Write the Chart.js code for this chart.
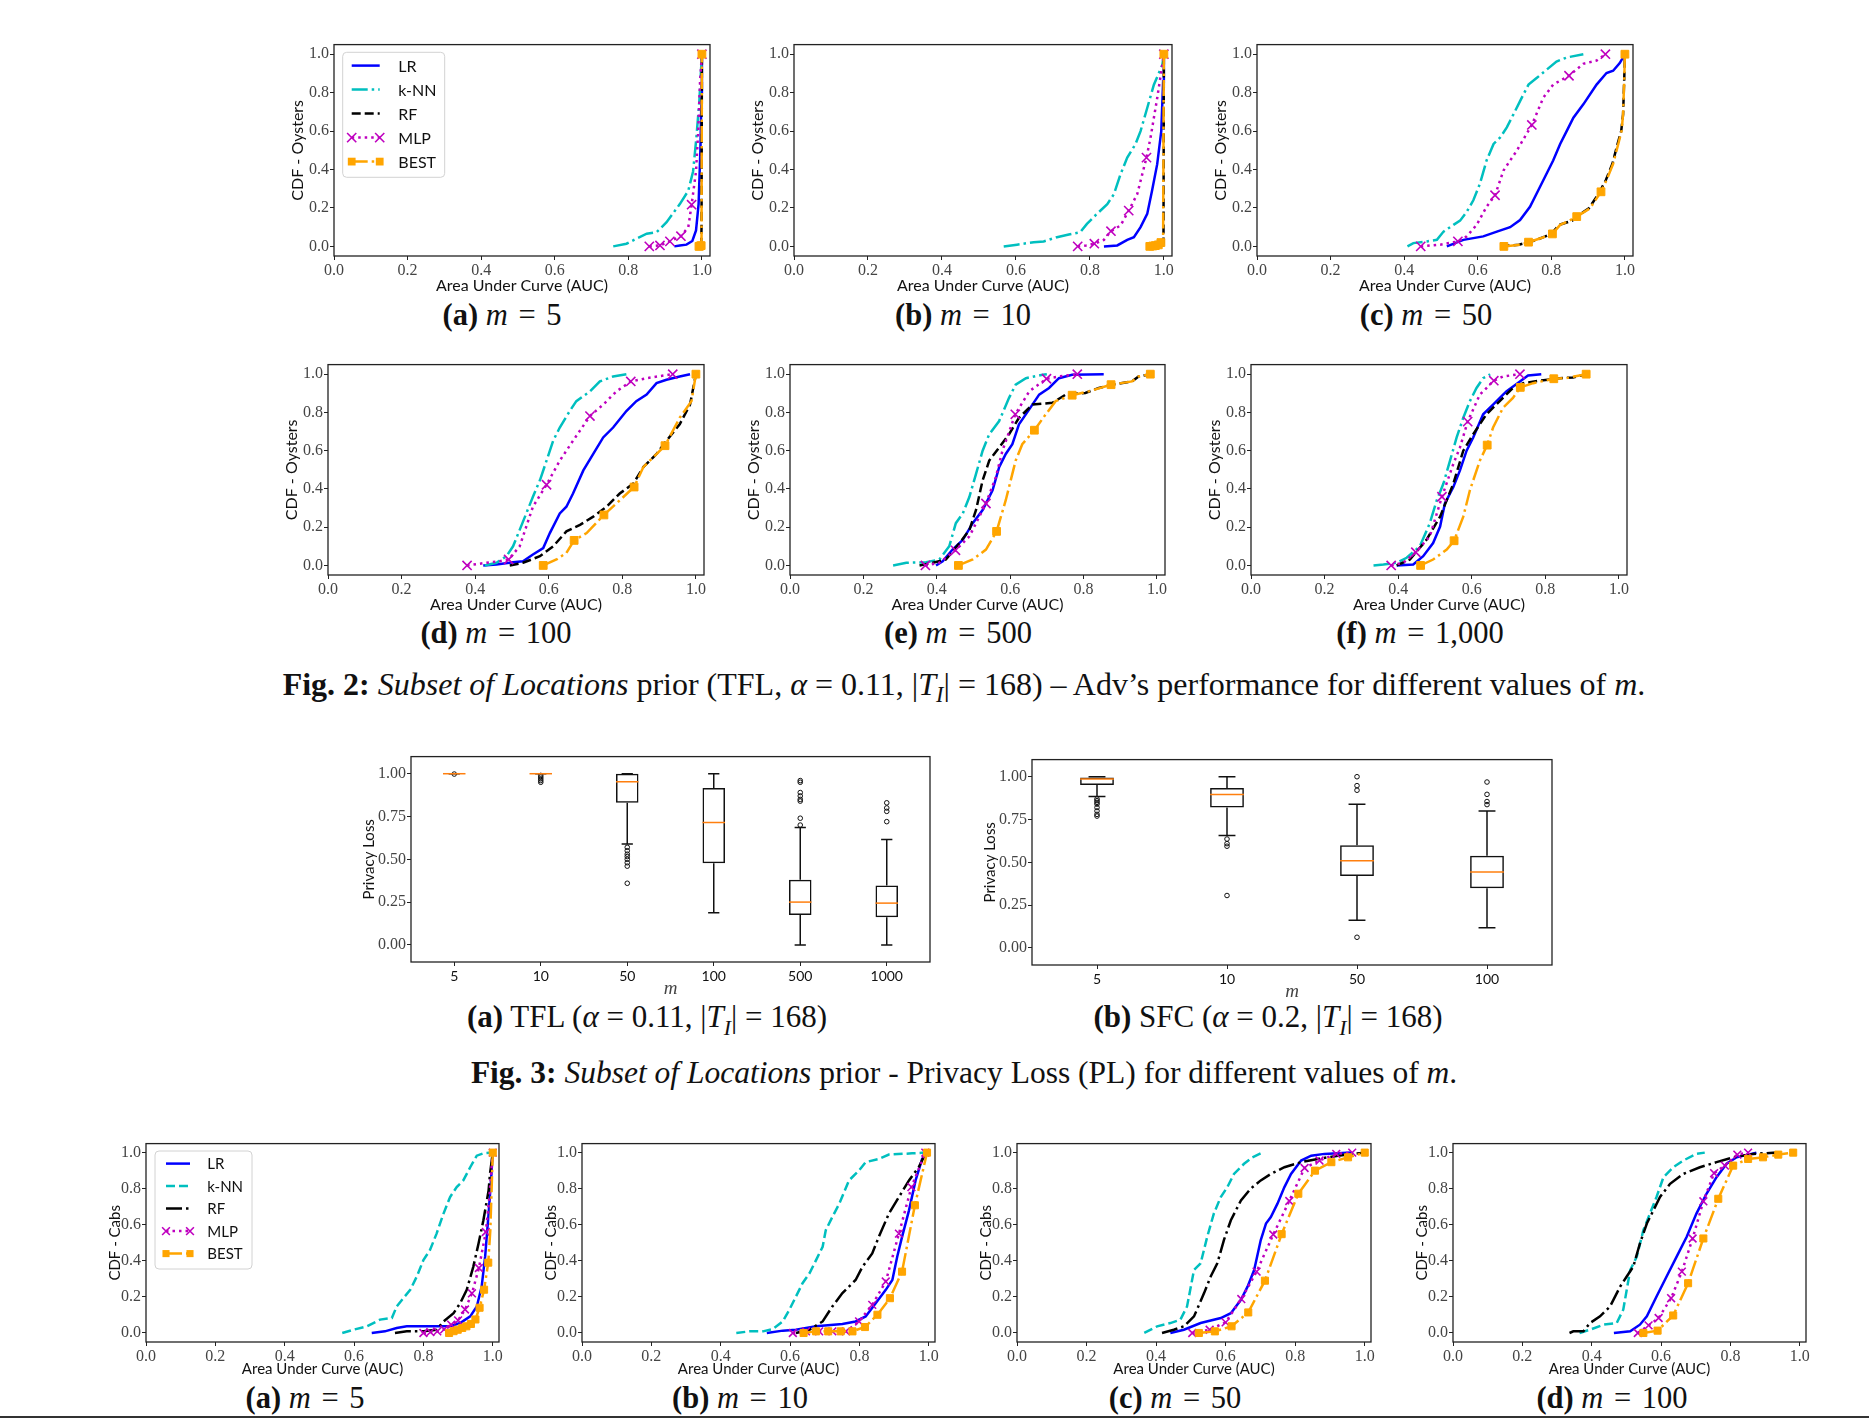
<!DOCTYPE html>
<html>
<head>
<meta charset="utf-8">
<script src="https://cdn.jsdelivr.net/npm/chart.js@4.4.1/dist/chart.umd.min.js"></script>
<style>
  body { margin: 0; background: #fff; width: 1869px; height: 1419px; position: relative; overflow: hidden; }
  canvas { position: absolute; }
  .cap { position: absolute; transform: translate(-50%, -50%); font-family: 'Liberation Serif', serif; font-size: 30.5px; white-space: nowrap; color: #111; }
  .bcap { font-size: 31px; }
  .fig { font-size: 32px; }
  .fig3 { font-size: 31.5px; }
  .eq { margin: 0 0.35em; }
  sub { font-size: 0.7em; }
  .rule { position: absolute; left: 0; top: 1416px; width: 1869px; height: 2px; background: #333; }
</style>
</head>
<body>

<div class="cap" style="left:502px;top:315px"><b>(a)</b> <i>m</i><span class="eq">=</span>5</div>
<div class="cap" style="left:963px;top:315px"><b>(b)</b> <i>m</i><span class="eq">=</span>10</div>
<div class="cap" style="left:1426px;top:315px"><b>(c)</b> <i>m</i><span class="eq">=</span>50</div>
<div class="cap" style="left:496px;top:633px"><b>(d)</b> <i>m</i><span class="eq">=</span>100</div>
<div class="cap" style="left:958px;top:633px"><b>(e)</b> <i>m</i><span class="eq">=</span>500</div>
<div class="cap" style="left:1420px;top:633px"><b>(f)</b> <i>m</i><span class="eq">=</span>1,000</div>
<div class="cap fig" style="left:964px;top:687px"><b>Fig. 2:</b> <i>Subset of Locations</i> prior (TFL, <i>α</i> = 0.11, |<i>T<sub>I</sub></i>| = 168) – Adv’s performance for different values of <i>m</i>.</div>

<div class="cap bcap" style="left:647px;top:1020px"><b>(a)</b> TFL (<i>α</i> = 0.11, |<i>T<sub>I</sub></i>| = 168)</div>
<div class="cap bcap" style="left:1268px;top:1020px"><b>(b)</b> SFC (<i>α</i> = 0.2, |<i>T<sub>I</sub></i>| = 168)</div>
<div class="cap fig3" style="left:964px;top:1073px"><b>Fig. 3:</b> <i>Subset of Locations</i> prior - Privacy Loss (PL) for different values of <i>m</i>.</div>

<div class="cap" style="left:305px;top:1398px"><b>(a)</b> <i>m</i><span class="eq">=</span>5</div>
<div class="cap" style="left:740px;top:1398px"><b>(b)</b> <i>m</i><span class="eq">=</span>10</div>
<div class="cap" style="left:1175px;top:1398px"><b>(c)</b> <i>m</i><span class="eq">=</span>50</div>
<div class="cap" style="left:1612px;top:1398px"><b>(d)</b> <i>m</i><span class="eq">=</span>100</div>
<div class="rule"></div>

<script>
// ---- data: [AUC, CDF] pairs ----
const modelNames = ['LR', 'k-NN', 'RF', 'MLP', 'BEST'];
const aucTicks = [0, 0.2, 0.4, 0.6, 0.8, 1.0];
const cdfTicks = [0, 0.2, 0.4, 0.6, 0.8, 1.0];
const plTicks = [0, 0.25, 0.5, 0.75, 1.0];

// Oysters, m = 5
const oys5LR = [[0.925,0],[0.94,0.005],[0.958,0.009],[0.974,0.028],[0.984,0.083],[0.991,0.22],[0.996,0.51],[0.999,0.8],[1.0,1.0]];
const oys5KNN = [[0.759,0],[0.795,0.014],[0.822,0.04],[0.85,0.066],[0.877,0.074],[0.904,0.126],[0.94,0.22],[0.963,0.29],[0.976,0.39],[0.985,0.566],[0.993,0.755],[0.996,0.86],[1.0,1.0]];
const oys5RF = [[0.995,0],[0.998,0.01],[0.999,0.1],[1.0,1.0]];
const oys5MLP = [[0.857,0],[0.886,0.005],[0.913,0.026],[0.943,0.053],[0.963,0.1],[0.972,0.217],[0.984,0.39],[0.99,0.6],[0.995,0.86],[1.0,1.0]];
const oys5BEST = [[0.992,0],[0.995,0.002],[0.998,0.004],[0.999,0.05],[1.0,1.0]];
// Oysters, m = 10
const oys10LR = [[0.838,0],[0.874,0.005],[0.901,0.034],[0.919,0.048],[0.937,0.1],[0.955,0.169],[0.968,0.29],[0.982,0.428],[0.993,0.6],[0.998,0.859],[1.0,1.0]];
const oys10KNN = [[0.567,0],[0.603,0.009],[0.648,0.022],[0.675,0.026],[0.711,0.048],[0.743,0.062],[0.774,0.074],[0.792,0.117],[0.819,0.169],[0.847,0.22],[0.865,0.272],[0.883,0.376],[0.901,0.462],[0.923,0.531],[0.937,0.6],[0.955,0.72],[0.973,0.841],[0.989,0.914],[0.996,0.945],[1.0,1.0]];
const oys10RF = [[0.997,0],[0.999,0.02],[1.0,1.0]];
const oys10MLP = [[0.767,0],[0.79,0.005],[0.812,0.014],[0.838,0.034],[0.857,0.079],[0.883,0.109],[0.905,0.186],[0.928,0.272],[0.953,0.462],[0.964,0.566],[0.982,0.772],[0.993,0.91],[1.0,1.0]];
const oys10BEST = [[0.962,0],[0.97,0.002],[0.977,0.004],[0.985,0.008],[0.992,0.02],[0.998,0.048],[1.0,1.0]];
// Oysters, m = 50
const oys50LR = [[0.516,0],[0.561,0.034],[0.615,0.052],[0.652,0.077],[0.688,0.1],[0.715,0.137],[0.742,0.206],[0.769,0.309],[0.787,0.378],[0.805,0.447],[0.824,0.533],[0.842,0.601],[0.86,0.67],[0.887,0.739],[0.923,0.842],[0.95,0.902],[0.968,0.914],[0.986,0.954],[1.0,1.0]];
const oys50KNN = [[0.409,0],[0.425,0.017],[0.462,0.026],[0.489,0.034],[0.507,0.077],[0.534,0.112],[0.552,0.134],[0.57,0.18],[0.588,0.24],[0.606,0.326],[0.624,0.447],[0.643,0.533],[0.661,0.567],[0.679,0.619],[0.697,0.687],[0.715,0.756],[0.738,0.842],[0.76,0.876],[0.787,0.919],[0.814,0.962],[0.842,0.983],[0.887,1.0]];
const oys50RF = [[0.662,0],[0.712,0.009],[0.748,0.026],[0.784,0.052],[0.802,0.069],[0.821,0.112],[0.857,0.134],[0.875,0.163],[0.902,0.198],[0.929,0.275],[0.948,0.344],[0.966,0.43],[0.98,0.533],[0.99,0.601],[0.995,0.687],[0.998,0.859],[1.0,1.0]];
const oys50MLP = [[0.445,0],[0.498,0.009],[0.546,0.026],[0.57,0.052],[0.597,0.112],[0.624,0.206],[0.647,0.266],[0.67,0.395],[0.706,0.498],[0.747,0.632],[0.778,0.773],[0.805,0.842],[0.848,0.888],[0.887,0.95],[0.923,0.967],[0.947,1.0]];
const oys50BEST = [[0.671,0],[0.715,0.009],[0.738,0.022],[0.775,0.045],[0.803,0.065],[0.824,0.112],[0.845,0.13],[0.869,0.155],[0.905,0.198],[0.935,0.284],[0.95,0.344],[0.968,0.43],[0.982,0.533],[0.991,0.601],[0.995,0.687],[0.998,0.859],[1.0,1.0]];
// Oysters, m = 100
const oys100LR = [[0.422,0],[0.458,0.005],[0.503,0.017],[0.53,0.022],[0.557,0.057],[0.585,0.091],[0.603,0.169],[0.63,0.272],[0.648,0.307],[0.666,0.376],[0.694,0.497],[0.721,0.583],[0.748,0.669],[0.775,0.721],[0.811,0.807],[0.838,0.859],[0.866,0.893],[0.893,0.953],[0.92,0.971],[0.956,0.988],[0.984,1.0]];
const oys100KNN = [[0.426,0],[0.458,0.014],[0.485,0.048],[0.503,0.1],[0.521,0.186],[0.539,0.272],[0.557,0.359],[0.576,0.445],[0.594,0.548],[0.612,0.652],[0.63,0.721],[0.657,0.807],[0.675,0.859],[0.712,0.91],[0.739,0.962],[0.775,0.988],[0.811,1.0]];
const oys100RF = [[0.494,0],[0.53,0.014],[0.576,0.048],[0.612,0.1],[0.648,0.178],[0.685,0.212],[0.721,0.255],[0.757,0.307],[0.793,0.376],[0.83,0.428],[0.857,0.514],[0.893,0.583],[0.92,0.652],[0.956,0.738],[0.984,0.841],[1.0,1.0]];
const oys100MLP = [[0.378,0],[0.431,0.014],[0.467,0.022],[0.491,0.031],[0.521,0.1],[0.557,0.307],[0.594,0.422],[0.63,0.548],[0.666,0.652],[0.712,0.781],[0.748,0.841],[0.784,0.91],[0.823,0.962],[0.866,0.979],[0.937,1.0]];
const oys100BEST = [[0.585,0],[0.621,0.031],[0.648,0.066],[0.669,0.131],[0.703,0.169],[0.75,0.264],[0.784,0.324],[0.832,0.41],[0.857,0.514],[0.916,0.626],[0.956,0.772],[0.988,0.859],[1.0,1.0]];
// Oysters, m = 500
const oys500LR = [[0.398,0],[0.416,0.022],[0.443,0.083],[0.471,0.134],[0.498,0.221],[0.525,0.29],[0.552,0.393],[0.57,0.514],[0.588,0.583],[0.606,0.634],[0.624,0.738],[0.652,0.816],[0.679,0.893],[0.706,0.928],[0.733,0.979],[0.769,0.997],[0.855,1.0]];
const oys500KNN = [[0.281,0],[0.317,0.014],[0.371,0.017],[0.407,0.031],[0.434,0.1],[0.452,0.221],[0.471,0.272],[0.489,0.359],[0.507,0.479],[0.525,0.6],[0.543,0.686],[0.57,0.755],[0.597,0.876],[0.615,0.945],[0.643,0.979],[0.688,0.997],[0.7,1.0]];
const oys500RF = [[0.353,0],[0.389,0.014],[0.425,0.031],[0.462,0.117],[0.489,0.186],[0.507,0.29],[0.525,0.445],[0.543,0.548],[0.57,0.617],[0.597,0.686],[0.624,0.772],[0.661,0.841],[0.715,0.85],[0.751,0.893],[0.805,0.902],[0.842,0.928],[0.878,0.945],[0.932,0.962],[0.95,0.988],[0.982,1.0]];
const oys500MLP = [[0.369,0],[0.407,0.014],[0.451,0.079],[0.489,0.152],[0.534,0.324],[0.561,0.462],[0.579,0.6],[0.614,0.79],[0.652,0.91],[0.699,0.976],[0.733,0.988],[0.783,1.0]];
const oys500BEST = [[0.459,0],[0.498,0.031],[0.534,0.083],[0.563,0.178],[0.588,0.341],[0.615,0.548],[0.633,0.634],[0.666,0.707],[0.697,0.79],[0.724,0.859],[0.769,0.89],[0.814,0.91],[0.875,0.945],[0.932,0.962],[0.95,0.988],[0.982,1.0]];
// Oysters, m = 1000
const oys1000LR = [[0.396,0],[0.441,0.005],[0.468,0.048],[0.495,0.117],[0.514,0.203],[0.527,0.324],[0.55,0.41],[0.568,0.497],[0.586,0.6],[0.604,0.669],[0.631,0.79],[0.658,0.841],[0.694,0.91],[0.731,0.962],[0.753,0.993],[0.789,1.0]];
const oys1000KNN = [[0.333,0],[0.36,0.005],[0.396,0.014],[0.423,0.04],[0.459,0.1],[0.486,0.221],[0.505,0.341],[0.523,0.428],[0.541,0.548],[0.559,0.669],[0.577,0.772],[0.595,0.859],[0.613,0.928],[0.631,0.979],[0.645,0.993],[0.65,1.0]];
const oys1000RF = [[0.396,0],[0.432,0.031],[0.477,0.134],[0.514,0.255],[0.55,0.428],[0.577,0.6],[0.604,0.686],[0.64,0.79],[0.685,0.876],[0.712,0.928],[0.74,0.953],[0.785,0.966],[0.839,0.979],[0.875,0.983],[0.911,1.0]];
const oys1000MLP = [[0.381,0],[0.414,0.014],[0.448,0.069],[0.486,0.152],[0.519,0.359],[0.55,0.531],[0.568,0.617],[0.589,0.752],[0.622,0.893],[0.66,0.966],[0.685,0.988],[0.731,1.0]];
const oys1000BEST = [[0.461,0],[0.495,0.031],[0.532,0.083],[0.552,0.129],[0.577,0.255],[0.595,0.393],[0.622,0.548],[0.642,0.629],[0.658,0.721],[0.685,0.824],[0.712,0.876],[0.732,0.931],[0.767,0.953],[0.823,0.976],[0.857,0.979],[0.911,1.0]];

// Cabs, m = 5
const cab5LR = [[0.651,0],[0.689,0.009],[0.723,0.028],[0.752,0.037],[0.877,0.037],[0.906,0.055],[0.935,0.092],[0.954,0.147],[0.968,0.257],[0.978,0.423],[0.988,0.662],[0.995,0.846],[1.0,1.0]];
const cab5KNN = [[0.566,0],[0.598,0.018],[0.637,0.037],[0.675,0.074],[0.709,0.083],[0.723,0.147],[0.742,0.193],[0.762,0.239],[0.781,0.313],[0.8,0.404],[0.819,0.46],[0.838,0.551],[0.858,0.662],[0.877,0.754],[0.896,0.809],[0.915,0.846],[0.935,0.919],[0.954,0.983],[0.973,0.996],[1.0,1.0]];
const cab5RF = [[0.718,0],[0.752,0.009],[0.8,0.009],[0.838,0.018],[0.858,0.064],[0.887,0.11],[0.906,0.165],[0.925,0.239],[0.944,0.368],[0.959,0.496],[0.973,0.625],[0.988,0.79],[0.992,0.882],[1.0,1.0]];
const cab5MLP = [[0.8,0],[0.82,0.005],[0.84,0.009],[0.86,0.02],[0.88,0.046],[0.9,0.07],[0.92,0.13],[0.94,0.22],[0.96,0.36],[0.98,0.56],[0.99,0.75],[1.0,1.0]];
const cab5BEST = [[0.874,0],[0.887,0.01],[0.899,0.018],[0.912,0.028],[0.924,0.037],[0.937,0.05],[0.95,0.075],[0.962,0.14],[0.975,0.24],[0.987,0.39],[0.993,0.57],[1.0,1.0]];
// Cabs, m = 10
const cab10LR = [[0.533,0],[0.579,0.013],[0.617,0.018],[0.675,0.037],[0.751,0.05],[0.789,0.064],[0.818,0.092],[0.847,0.165],[0.876,0.239],[0.895,0.294],[0.909,0.423],[0.923,0.533],[0.943,0.68],[0.962,0.846],[0.981,0.965],[0.995,1.0]];
const cab10KNN = [[0.445,0],[0.483,0.009],[0.522,0.009],[0.55,0.022],[0.579,0.064],[0.598,0.129],[0.617,0.202],[0.636,0.276],[0.656,0.331],[0.675,0.404],[0.694,0.478],[0.703,0.57],[0.722,0.643],[0.742,0.717],[0.77,0.846],[0.799,0.901],[0.818,0.947],[0.856,0.965],[0.885,0.989],[0.952,0.996],[0.99,1.0]];
const cab10RF = [[0.617,0],[0.656,0.018],[0.694,0.064],[0.722,0.147],[0.751,0.221],[0.789,0.294],[0.809,0.368],[0.837,0.441],[0.856,0.533],[0.885,0.662],[0.914,0.754],[0.943,0.846],[0.971,0.919],[0.99,0.993],[0.995,1.0]];
const cab10MLP = [[0.608,0],[0.646,0.009],[0.684,0.009],[0.722,0.009],[0.761,0.009],[0.799,0.064],[0.837,0.156],[0.876,0.285],[0.914,0.551],[0.95,0.809],[0.99,1.0]];
const cab10BEST = [[0.639,0],[0.675,0.009],[0.71,0.009],[0.746,0.009],[0.78,0.009],[0.816,0.033],[0.852,0.101],[0.888,0.193],[0.923,0.34],[0.96,0.708],[0.995,1.0]];
// Cabs, m = 50
const cab50LR = [[0.441,0],[0.48,0.018],[0.528,0.055],[0.586,0.083],[0.615,0.11],[0.644,0.184],[0.663,0.257],[0.682,0.349],[0.701,0.515],[0.716,0.607],[0.73,0.643],[0.749,0.717],[0.769,0.809],[0.788,0.882],[0.817,0.956],[0.846,0.983],[0.884,0.993],[0.961,1.0]];
const cab50KNN = [[0.366,0],[0.403,0.037],[0.441,0.055],[0.47,0.074],[0.489,0.147],[0.509,0.349],[0.528,0.386],[0.547,0.533],[0.566,0.662],[0.586,0.754],[0.605,0.809],[0.624,0.882],[0.653,0.938],[0.677,0.974],[0.701,0.996]];
const cab50RF = [[0.417,0],[0.451,0.018],[0.48,0.037],[0.509,0.092],[0.538,0.221],[0.557,0.313],[0.576,0.386],[0.595,0.515],[0.615,0.625],[0.644,0.735],[0.672,0.8],[0.701,0.846],[0.73,0.882],[0.769,0.919],[0.817,0.947],[0.865,0.965],[0.923,0.983],[1.0,1.0]];
const cab50MLP = [[0.504,0],[0.554,0.018],[0.6,0.059],[0.645,0.188],[0.689,0.34],[0.737,0.546],[0.783,0.732],[0.827,0.915],[0.87,0.956],[0.918,0.993],[0.964,1.0]];
const cab50BEST = [[0.523,0],[0.569,0.009],[0.617,0.037],[0.665,0.114],[0.713,0.29],[0.761,0.548],[0.809,0.772],[0.857,0.9],[0.904,0.947],[0.952,0.974],[1.0,1.0]];
// Cabs, m = 100
const cab100LR = [[0.464,0],[0.511,0.009],[0.539,0.046],[0.559,0.092],[0.587,0.202],[0.616,0.313],[0.645,0.423],[0.674,0.533],[0.702,0.662],[0.731,0.772],[0.76,0.864],[0.789,0.938],[0.818,0.974],[0.875,1.0]];
const cab100KNN = [[0.365,0],[0.395,0.018],[0.434,0.046],[0.472,0.055],[0.491,0.129],[0.511,0.349],[0.53,0.423],[0.549,0.57],[0.568,0.662],[0.587,0.754],[0.607,0.864],[0.635,0.919],[0.664,0.956],[0.702,0.993],[0.726,1.0]];
const cab100RF = [[0.336,0],[0.347,0.009],[0.376,0.009],[0.395,0.055],[0.424,0.092],[0.453,0.147],[0.482,0.257],[0.501,0.313],[0.52,0.368],[0.539,0.496],[0.559,0.607],[0.578,0.68],[0.597,0.754],[0.626,0.827],[0.664,0.882],[0.712,0.919],[0.76,0.947],[0.808,0.974],[0.866,0.993],[0.933,1.0]];
const cab100MLP = [[0.533,0],[0.564,0.042],[0.593,0.083],[0.629,0.193],[0.66,0.34],[0.691,0.524],[0.722,0.73],[0.753,0.886],[0.784,0.928],[0.82,0.989],[0.851,1.0]];
const cab100BEST = [[0.549,0],[0.59,0.013],[0.635,0.097],[0.678,0.276],[0.722,0.524],[0.765,0.744],[0.808,0.928],[0.851,0.965],[0.894,0.974],[0.938,0.989],[0.981,1.0]];

// Privacy loss box plots
const tflLabels = ['5', '10', '50', '100', '500', '1000'];
const tflQ1  = [1.0, 1.0, 0.831, 0.477, 0.174, 0.161];
const tflMed = [1.0, 1.0, 0.953, 0.715, 0.250, 0.244];
const tflQ3  = [1.0, 1.0, 1.0, 0.917, 0.380, 0.347];
const tflLo  = [1.0, 1.0, 0.589, 0.188, 0.0, 0.0];
const tflHi  = [1.0, 1.0, 1.0, 1.0, 0.686, 0.616];
const tflOut = [[0.998], [0.99, 0.98, 0.97, 0.96, 0.95], [0.57, 0.55, 0.53, 0.516, 0.50, 0.48, 0.46, 0.36], [], [0.96, 0.95, 0.89, 0.87, 0.85, 0.84, 0.74, 0.70], [0.83, 0.80, 0.78, 0.72]];

const sfcLabels = ['5', '10', '50', '100'];
const sfcQ1  = [0.952, 0.820, 0.420, 0.348];
const sfcMed = [0.986, 0.896, 0.509, 0.443];
const sfcQ3  = [0.996, 0.934, 0.600, 0.538];
const sfcLo  = [0.884, 0.656, 0.162, 0.118];
const sfcHi  = [1.0, 1.0, 0.839, 0.799];
const sfcOut = [[0.87, 0.86, 0.85, 0.84, 0.82, 0.80, 0.78, 0.77], [0.636, 0.609, 0.594, 0.306], [1.0, 0.948, 0.921, 0.062], [0.969, 0.897, 0.855, 0.837]];

// ---- styles ----
const SERIF = "'Liberation Serif', 'DejaVu Serif', serif";
const SANS = "Lato, 'Open Sans', sans-serif";
const TICK = '#444';
const PAD_TOP = 10;
Chart.defaults.font.family = SANS;

const DASHDOT = [16, 4, 2.5, 4];
const DASHED = [9, 4];
const DOTTED = [2.5, 4];
const oysStyle = {
  'LR':   { color: '#0000ff', dash: [], order: 5 },
  'k-NN': { color: '#00bfbf', dash: DASHDOT, order: 4 },
  'RF':   { color: '#000000', dash: DASHED, order: 3 },
  'MLP':  { color: '#bf00bf', dash: DOTTED, order: 2, marker: 'crossRot', size: 6.5 },
  'BEST': { color: '#ffa500', dash: DASHDOT, order: 1, marker: 'rect', size: 5.5 }
};
const cabStyle = {
  'LR':   { color: '#0000ff', dash: [], order: 5 },
  'k-NN': { color: '#00bfbf', dash: DASHED, order: 4 },
  'RF':   { color: '#000000', dash: DASHDOT, order: 3 },
  'MLP':  { color: '#bf00bf', dash: DOTTED, order: 2, marker: 'crossRot', size: 5.5 },
  'BEST': { color: '#ffa500', dash: DASHDOT, order: 1, marker: 'rect', size: 5 }
};

// markers at n evenly spaced AUC values along the curve (like markevery)
function markRadius(c, n, size) {
  if (c.type !== 'data') return 0;
  const d = c.dataset.data;
  const x0 = d[0].x, x1 = d[d.length - 1].x;
  for (let k = 0; k < n; k++) {
    const t = x0 + k * (x1 - x0) / (n - 1);
    let best = 0;
    d.forEach((p, i) => { if (Math.abs(p.x - t) < Math.abs(d[best].x - t)) best = i; });
    if (best === c.dataIndex) return size;
  }
  return 0;
}

function cdfSets(list, styles, nMarks) {
  return list.map((pts, i) => {
    const name = modelNames[i], st = styles[name];
    return {
      label: name,
      data: pts.map(p => ({ x: p[0], y: p[1] })),
      borderColor: st.color,
      backgroundColor: st.color,
      borderWidth: 2.5,
      borderDash: st.dash,
      pointStyle: st.marker || 'circle',
      pointRadius: st.marker ? (c) => markRadius(c, nMarks, st.size) : 0,
      pointBorderColor: st.color,
      pointBackgroundColor: st.color,
      pointBorderWidth: st.marker === 'crossRot' ? 1.6 : 1,
      marker: st.marker,
      markSize: st.size,
      order: st.order,
      tension: 0,
      fill: false
    };
  });
}

function drawMark(ctx, kind, x, y, r, color) {
  const s = r * Math.SQRT1_2;
  ctx.save();
  ctx.strokeStyle = color;
  ctx.fillStyle = color;
  if (kind === 'rect') {
    ctx.fillRect(x - s, y - s, 2 * s, 2 * s);
  } else {
    ctx.lineWidth = 1.6;
    ctx.beginPath();
    ctx.moveTo(x - s, y - s); ctx.lineTo(x + s, y + s);
    ctx.moveTo(x + s, y - s); ctx.lineTo(x - s, y + s);
    ctx.stroke();
  }
  ctx.restore();
}

const framePlugin = {
  id: 'frame',
  afterDatasetsDraw(chart) {
    const { ctx, chartArea: a } = chart;
    ctx.save();
    ctx.strokeStyle = '#222';
    ctx.lineWidth = 1.3;
    ctx.strokeRect(a.left, a.top, a.right - a.left, a.bottom - a.top);
    ctx.restore();
  }
};

const legendPlugin = {
  id: 'legendBox',
  afterDatasetsDraw(chart, args, o) {
    if (!o || !o.show) return;
    const ctx = chart.ctx, a = chart.chartArea;
    const bx = a.left + o.dx, by = a.top + o.dy;
    ctx.save();
    ctx.beginPath();
    ctx.roundRect(bx, by, o.w, o.h, 4);
    ctx.fillStyle = 'rgba(255,255,255,0.9)';
    ctx.fill();
    ctx.strokeStyle = '#d2d2d2';
    ctx.lineWidth = 1;
    ctx.stroke();
    chart.data.datasets.forEach((ds, i) => {
      const y = by + o.first + i * o.gap;
      ctx.strokeStyle = ds.borderColor;
      ctx.lineWidth = ds.borderWidth;
      ctx.setLineDash(ds.borderDash);
      ctx.beginPath();
      ctx.moveTo(bx + o.lx0, y);
      ctx.lineTo(bx + o.lx1, y);
      ctx.stroke();
      ctx.setLineDash([]);
      if (ds.marker) {
        drawMark(ctx, ds.marker, bx + o.lx0, y, ds.markSize, ds.borderColor);
        drawMark(ctx, ds.marker, bx + o.lx1, y, ds.markSize, ds.borderColor);
      }
      ctx.fillStyle = '#111';
      ctx.font = o.fontSpec;
      ctx.textAlign = 'left';
      ctx.textBaseline = 'middle';
      ctx.fillText(ds.label, bx + o.tx, y + 1);
    });
    ctx.restore();
  }
};

const whiskerPlugin = {
  id: 'whiskers',
  afterDatasetsDraw(chart) {
    const ds = chart.data.datasets[0];
    if (!ds.med) return;
    const meta = chart.getDatasetMeta(0);
    const y = chart.scales.y, ctx = chart.ctx;
    ctx.save();
    meta.data.forEach((bar, i) => {
      const cx = bar.x, hw = bar.width / 2;
      const pLo = y.getPixelForValue(ds.lo[i]), pHi = y.getPixelForValue(ds.hi[i]);
      const pQ1 = y.getPixelForValue(ds.data[i][0]), pQ3 = y.getPixelForValue(ds.data[i][1]);
      ctx.strokeStyle = '#111';
      ctx.lineWidth = 1.5;
      ctx.beginPath();
      ctx.moveTo(cx, pQ3); ctx.lineTo(cx, pHi);
      ctx.moveTo(cx, pQ1); ctx.lineTo(cx, pLo);
      ctx.moveTo(cx - hw / 2, pHi); ctx.lineTo(cx + hw / 2, pHi);
      ctx.moveTo(cx - hw / 2, pLo); ctx.lineTo(cx + hw / 2, pLo);
      ctx.stroke();
      const pM = y.getPixelForValue(ds.med[i]);
      ctx.strokeStyle = '#ff7f0e';
      ctx.beginPath();
      ctx.moveTo(cx - hw, pM); ctx.lineTo(cx + hw, pM);
      ctx.stroke();
    });
    ctx.restore();
  }
};

function place(L, T, R, B, yw, xh) {
  const c = document.createElement('canvas');
  c.width = Math.round(R - L + yw + 10);
  c.height = Math.round(B - T + PAD_TOP + xh);
  c.style.left = Math.round(L - yw) + 'px';
  c.style.top = Math.round(T - PAD_TOP) + 'px';
  document.body.appendChild(c);
  return c;
}

function axisGrid() {
  return { drawOnChartArea: false, tickLength: 4, color: '#222', lineWidth: 1 };
}

function cdfChart(box, sets, cfg) {
  const cv = place(box[0], box[1], box[2], box[3], cfg.yw, cfg.xh);
  return new Chart(cv, {
    type: 'line',
    data: { datasets: sets },
    options: {
      responsive: false,
      animation: false,
      events: [],
      layout: { padding: { top: PAD_TOP, right: 10, bottom: 0, left: 0 } },
      plugins: {
        legend: { display: false },
        tooltip: { enabled: false },
        legendBox: cfg.legend || { show: false }
      },
      scales: {
        x: {
          type: 'linear', min: 0, max: cfg.xMax,
          afterBuildTicks: a => { a.ticks = aucTicks.map(v => ({ value: v })); },
          afterFit: a => { a.height = cfg.xh; },
          border: { display: false },
          grid: axisGrid(),
          ticks: { font: { family: SERIF, size: 16 }, color: TICK, padding: 1, maxRotation: 0, autoSkip: false, callback: v => v.toFixed(1) },
          title: { display: true, text: 'Area Under Curve (AUC)', font: { family: SANS, size: cfg.tf }, color: '#111', padding: { top: 0, bottom: 4 } }
        },
        y: {
          type: 'linear', min: -0.05, max: 1.05,
          afterBuildTicks: a => { a.ticks = cdfTicks.map(v => ({ value: v })); },
          afterFit: a => { a.width = cfg.yw; },
          border: { display: false },
          grid: axisGrid(),
          ticks: { font: { family: SERIF, size: 16 }, color: TICK, padding: 1, autoSkip: false, callback: v => v.toFixed(1) },
          title: { display: true, text: cfg.ylab, font: { family: SANS, size: cfg.tf }, color: '#111', padding: { top: 4, bottom: 0 } }
        }
      }
    },
    plugins: [framePlugin, legendPlugin]
  });
}

function boxChart(box, labels, q1, q3, med, lo, hi, out) {
  const yw = 55, xh = 42;
  const cv = place(box[0], box[1], box[2], box[3], yw, xh);
  const outPts = [];
  out.forEach((arr, i) => arr.forEach(v => outPts.push({ x: labels[i], y: v })));
  return new Chart(cv, {
    type: 'bar',
    data: {
      labels: labels,
      datasets: [
        {
          type: 'bar',
          data: q1.map((v, i) => [v, q3[i]]),
          backgroundColor: 'rgba(255,255,255,0)',
          borderColor: '#111',
          borderWidth: 1.5,
          borderSkipped: false,
          barPercentage: 0.26,
          categoryPercentage: 1,
          med: med, lo: lo, hi: hi,
          order: 2
        },
        {
          type: 'line',
          data: outPts,
          showLine: false,
          pointStyle: 'circle',
          pointRadius: 2.3,
          pointBorderWidth: 1,
          pointBorderColor: '#111',
          pointBackgroundColor: 'rgba(0,0,0,0)',
          order: 1
        }
      ]
    },
    options: {
      responsive: false,
      animation: false,
      events: [],
      layout: { padding: { top: PAD_TOP, right: 10, bottom: 0, left: 0 } },
      plugins: { legend: { display: false }, tooltip: { enabled: false } },
      scales: {
        x: {
          type: 'category', offset: true,
          afterFit: a => { a.height = xh; },
          border: { display: false },
          grid: Object.assign(axisGrid(), { offset: false }),
          ticks: { font: { family: SANS, size: 14 }, color: '#111', padding: 2, maxRotation: 0, autoSkip: false },
          title: { display: true, text: 'm', font: { family: SERIF, size: 19, style: 'italic' }, color: '#444', padding: { top: 0, bottom: 4 } }
        },
        y: {
          type: 'linear', min: -0.1, max: 1.1,
          afterBuildTicks: a => { a.ticks = plTicks.map(v => ({ value: v })); },
          afterFit: a => { a.width = yw; },
          border: { display: false },
          grid: axisGrid(),
          ticks: { font: { family: SERIF, size: 16 }, color: TICK, padding: 1, autoSkip: false, callback: v => v.toFixed(2) },
          title: { display: true, text: 'Privacy Loss', font: { family: SANS, size: 15 }, color: '#111', padding: { top: 4, bottom: 0 } }
        }
      }
    },
    plugins: [framePlugin, whiskerPlugin]
  });
}

// ---- Fig. 2 : Oysters ----
const oysCfg = { yw: 50, xh: 43, tf: 16, xMax: 1.022, ylab: 'CDF - Oysters' };
const oysLegend = { show: true, dx: 8.7, dy: 7.7, w: 102, h: 125, first: 13.3, gap: 24, lx0: 9, lx1: 37, tx: 55.6, fontSpec: "16px Lato, 'Open Sans', sans-serif" };

cdfChart([334, 44, 710, 256], cdfSets([oys5LR, oys5KNN, oys5RF, oys5MLP, oys5BEST], oysStyle, 6), Object.assign({ legend: oysLegend }, oysCfg));
cdfChart([794, 44, 1172, 256], cdfSets([oys10LR, oys10KNN, oys10RF, oys10MLP, oys10BEST], oysStyle, 6), oysCfg);
cdfChart([1257, 44, 1633, 256], cdfSets([oys50LR, oys50KNN, oys50RF, oys50MLP, oys50BEST], oysStyle, 6), oysCfg);
cdfChart([328, 364, 704, 575], cdfSets([oys100LR, oys100KNN, oys100RF, oys100MLP, oys100BEST], oysStyle, 6), oysCfg);
cdfChart([790, 364, 1165, 575], cdfSets([oys500LR, oys500KNN, oys500RF, oys500MLP, oys500BEST], oysStyle, 6), oysCfg);
cdfChart([1251, 364, 1627, 575], cdfSets([oys1000LR, oys1000KNN, oys1000RF, oys1000MLP, oys1000BEST], oysStyle, 6), oysCfg);

// ---- Fig. 3 : privacy loss ----
boxChart([411, 756, 930, 962], tflLabels, tflQ1, tflQ3, tflMed, tflLo, tflHi, tflOut);
boxChart([1032, 759, 1552, 965], sfcLabels, sfcQ1, sfcQ3, sfcMed, sfcLo, sfcHi, sfcOut);

// ---- Cabs ----
const cabCfg = { yw: 44, xh: 40, tf: 15, xMax: 1.018, ylab: 'CDF - Cabs' };
const cabLegend = { show: true, dx: 9, dy: 7.4, w: 97, h: 118, first: 12.6, gap: 22.5, lx0: 11, lx1: 35, tx: 52.3, fontSpec: "15px Lato, 'Open Sans', sans-serif" };

cdfChart([146, 1143, 499, 1342], cdfSets([cab5LR, cab5KNN, cab5RF, cab5MLP, cab5BEST], cabStyle, 11), Object.assign({ legend: cabLegend }, cabCfg));
cdfChart([582, 1143, 935, 1342], cdfSets([cab10LR, cab10KNN, cab10RF, cab10MLP, cab10BEST], cabStyle, 11), cabCfg);
cdfChart([1017, 1143, 1371, 1342], cdfSets([cab50LR, cab50KNN, cab50RF, cab50MLP, cab50BEST], cabStyle, 11), cabCfg);
cdfChart([1453, 1143, 1806, 1342], cdfSets([cab100LR, cab100KNN, cab100RF, cab100MLP, cab100BEST], cabStyle, 11), cabCfg);
</script>
</body>
</html>
